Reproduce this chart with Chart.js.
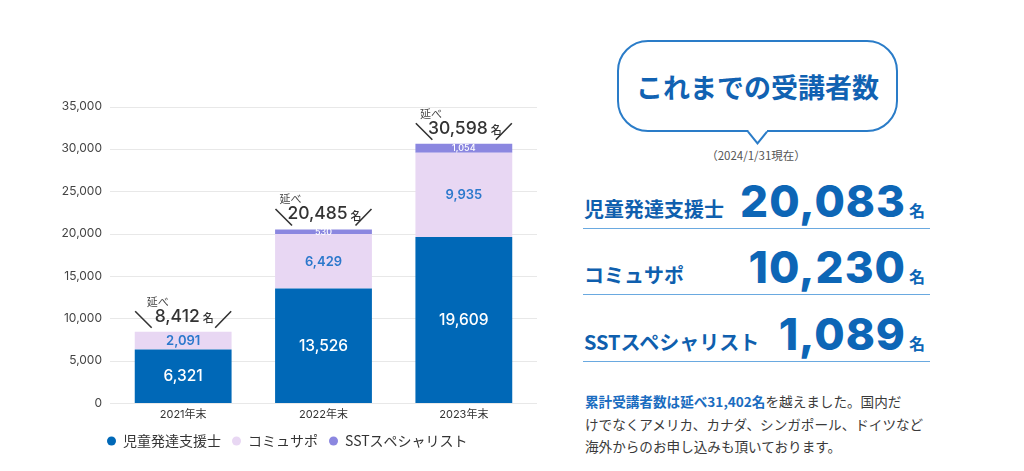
<!DOCTYPE html>
<html><head><meta charset="utf-8">
<script src="https://cdn.jsdelivr.net/npm/chart.js@4"></script>
<style>
html,body{margin:0;padding:0;background:#fff;width:1024px;height:471px;overflow:hidden;font-family:"Noto Sans CJK JP",sans-serif;}
#chartWrap{position:absolute;left:0;top:0;width:545px;height:471px;}
.bubble{position:absolute;left:617px;top:40px;width:277px;height:88px;border:2px solid #2a7cc8;border-radius:31px;background:#fff;}
.bubble .t{position:absolute;left:0;right:0;top:31px;text-align:center;font-size:27px;line-height:27px;font-weight:700;color:#1162b2;}
.tail{position:absolute;left:745px;top:128px;}
.date{position:absolute;left:656px;width:200px;top:147px;text-align:center;font-size:11.5px;line-height:16px;color:#555;}
.row{position:absolute;left:584px;width:341px;display:flex;align-items:baseline;}
.row .lab{font-size:20px;font-weight:700;color:#0f5fae;line-height:1;}
.row .num{margin-left:auto;font-family:Inter,sans-serif;font-weight:800;font-size:44px;line-height:1;color:#0d66b6;letter-spacing:1px;}
.row .unit{margin-left:3px;font-size:16px;font-weight:700;color:#0d66b6;line-height:1;}
.rule{position:absolute;left:583px;width:347px;height:0;border-top:1.5px solid #6aa9e0;}
.desc{position:absolute;left:585px;top:390px;margin:0;font-size:13.6px;line-height:22.7px;color:#3a3a3a;white-space:nowrap;}
.desc b{color:#1a6cc0;font-weight:700;}
</style></head>
<body>
<div id="chartWrap"><canvas id="c"></canvas></div>
<div class="bubble"><div class="t">これまでの受講者数</div></div>
<svg class="tail" width="26" height="18" viewBox="0 0 26 18"><rect x="3.5" y="1" width="18.5" height="4.5" fill="#fff"/><polyline points="3,3.7 12.5,15.3 22,3.7" fill="none" stroke="#2a7cc8" stroke-width="2" stroke-linejoin="miter"/></svg>
<div class="date">（2024/1/31現在）</div>
<div id="rows"></div>
<p class="desc"><b>累計受講者数は延べ31,402名</b>を越えました。国内だ<br>けでなくアメリカ、カナダ、シンガポール、ドイツなど<br>海外からのお申し込みも頂いております。</p>
<script>
// ---- chart data ----
const categories = ['2021年末', '2022年末', '2023年末'];
const seriesNames = ['児童発達支援士', 'コミュサポ', 'SSTスペシャリスト'];
const childSupport = [6321, 13526, 19609];
const commuSapo = [2091, 6429, 9935];
const sstSpecialist = [0, 530, 1054];
const totals = [8412, 20485, 30598];
const yTicks = [0, 5000, 10000, 15000, 20000, 25000, 30000, 35000];
// ---- side panel data ----
const panelLabels = ['児童発達支援士', 'コミュサポ', 'SSTスペシャリスト'];
const panelCounts = [20083, 10230, 1089];

const fmt = v => v.toLocaleString('en-US');

// side panel rows
const rowBaseTop = [178.5, 245.2, 311.9];
const ruleTop = [227.5, 294.2, 360.9];
const rowsEl = document.getElementById('rows');
panelLabels.forEach((lab, i) => {
  const r = document.createElement('div');
  r.className = 'row';
  r.style.top = rowBaseTop[i] + 'px';
  r.innerHTML = '<span class="lab">' + lab + '</span><span class="num">' + fmt(panelCounts[i]) + '</span><span class="unit">名</span>';
  rowsEl.appendChild(r);
  const ln = document.createElement('div');
  ln.className = 'rule';
  ln.style.top = ruleTop[i] + 'px';
  rowsEl.appendChild(ln);
});

const NUMF = "Inter, 'Noto Sans CJK JP', sans-serif";
Chart.defaults.font.family = NUMF;

const gridPlugin = {
  id: 'customGrid',
  beforeDatasetsDraw(chart) {
    const {ctx, chartArea, scales: {y}} = chart;
    ctx.save();
    ctx.strokeStyle = '#e8e8e8';
    ctx.lineWidth = 1;
    yTicks.forEach(v => {
      const py = Math.round(y.getPixelForValue(v)) + 0.5;
      ctx.beginPath();
      ctx.moveTo(chartArea.left - 3, py);
      ctx.lineTo(chartArea.right + 3, py);
      ctx.stroke();
    });
    ctx.restore();
  }
};

const labelPlugin = {
  id: 'valueLabels',
  afterDatasetsDraw(chart) {
    const ctx = chart.ctx;
    ctx.save();
    ctx.textAlign = 'center';
    ctx.textBaseline = 'middle';
    chart.data.datasets.forEach((ds, di) => {
      const meta = chart.getDatasetMeta(di);
      meta.data.forEach((bar, i) => {
        const v = ds.data[i];
        if (!v) return;
        const p = bar.getProps(['x', 'y', 'base'], true);
        ctx.fillStyle = ds.valueColor;
        ctx.font = ds.valueFont;
        ctx.fillText(fmt(v), p.x, (p.y + p.base) / 2 + 0.5);
      });
    });
    // totals annotation
    const meta0 = chart.getDatasetMeta(0);
    const y = chart.scales.y;
    totals.forEach((t, i) => {
      const xc = meta0.data[i].x;
      const top = y.getPixelForValue(t);
      ctx.strokeStyle = '#333';
      ctx.lineWidth = 1.6;
      ctx.beginPath();
      ctx.moveTo(xc - 48, top - 20.5); ctx.lineTo(xc - 31.5, top - 4);
      ctx.moveTo(xc + 48, top - 20.5); ctx.lineTo(xc + 32, top - 4);
      ctx.stroke();
      const numTxt = fmt(t);
      ctx.font = "500 17.5px " + NUMF;
      const wn = ctx.measureText(numTxt).width;
      ctx.font = "500 11px 'Noto Sans CJK JP', sans-serif";
      const wu = ctx.measureText('名').width;
      const gap = 3;
      const left = xc + 1 - (wn + gap + wu) / 2;
      ctx.textAlign = 'left';
      ctx.textBaseline = 'alphabetic';
      ctx.fillStyle = '#333';
      ctx.font = "500 17.5px " + NUMF;
      ctx.fillText(numTxt, left, top - 10);
      ctx.font = "500 11px 'Noto Sans CJK JP', sans-serif";
      ctx.fillText('名', left + wn + gap, top - 9.5);
      ctx.fillStyle = '#444';
      ctx.font = "11px 'Noto Sans CJK JP', sans-serif";
      ctx.fillText('延べ', left - 8, top - 26);
    });
    ctx.restore();
  }
};

const legendShift = {
  id: 'legendShift',
  afterLayout(chart) {
    if (chart.legend) chart.legend.left = 96;
  }
};

new Chart(document.getElementById('c'), {
  type: 'bar',
  data: {
    labels: categories,
    datasets: [
      {label: seriesNames[0], data: childSupport, backgroundColor: '#0068b7', valueColor: '#ffffff', valueFont: "500 15.5px " + NUMF},
      {label: seriesNames[1], data: commuSapo, backgroundColor: '#e8d7f3', valueColor: '#2b78cc', valueFont: "600 13px " + NUMF},
      {label: seriesNames[2], data: sstSpecialist, backgroundColor: '#8b87e0', valueColor: '#ffffff', valueFont: "500 9px " + NUMF}
    ]
  },
  options: {
    responsive: true,
    maintainAspectRatio: false,
    animation: false,
    layout: {padding: {top: 106.5, right: 11, bottom: 13, left: 0}},
    datasets: {bar: {categoryPercentage: 1, barPercentage: 0.69}},
    scales: {
      x: {
        stacked: true,
        grid: {display: false, drawTicks: false},
        border: {display: false},
        ticks: {color: '#333', font: {size: 11, family: "Inter, 'Noto Sans CJK JP', sans-serif"}, padding: 5},
        afterFit(s) { s.height = 20; }
      },
      y: {
        stacked: true,
        min: 0, max: 35000,
        grid: {display: false, drawTicks: false},
        border: {display: false},
        afterBuildTicks(s) { s.ticks = yTicks.map(v => ({value: v})); },
        ticks: {color: '#444', font: {size: 12}, padding: 11, callback: v => fmt(v)},
        afterFit(s) { s.width = 113; }
      }
    },
    plugins: {
      legend: {
        position: 'bottom',
        align: 'start',
        labels: {
          usePointStyle: true, pointStyle: 'circle',
          boxHeight: 6.5, pointStyleWidth: 9,
          padding: 11, color: '#333',
          font: {size: 14, family: "'Noto Sans CJK JP', sans-serif"}
        }
      },
      tooltip: {enabled: false}
    }
  },
  plugins: [gridPlugin, labelPlugin, legendShift]
});
</script>
</body></html>
